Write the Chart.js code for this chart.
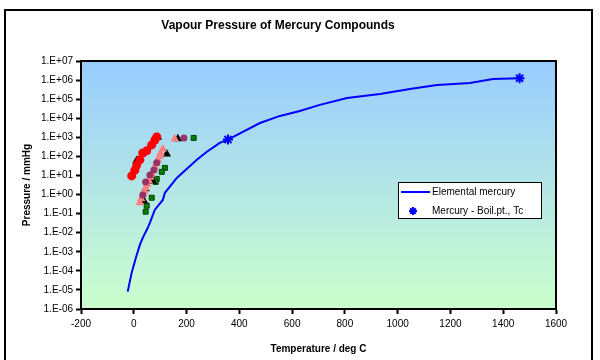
<!DOCTYPE html>
<html lang="en">
<head>
    <meta charset="UTF-8">
    <title>Vapour Pressure of Mercury Compounds</title>
    <script src="https://cdn.jsdelivr.net/npm/chart.js"></script>
    <style>
        body { margin: 0; background: #fff; }
        #chart { display: block; }
    </style>
</head>
<body>
    <canvas id="chart" width="600" height="360"></canvas>

    <script>
        // Elemental mercury curve (deg C, mmHg)
        const hgTemp = [-23, -8, 8, 23, 34, 53, 61, 80, 110, 118, 163, 239, 277, 326, 357, 478, 554, 629, 705, 808, 933, 1046, 1149, 1274, 1361, 1462];
        const hgPressure = [8.1e-6, 7.9e-5, 4.9e-4, 2.3e-3, 5.4e-3, 1.8e-2, 3.3e-2, 0.16, 0.52, 1.23, 7.4, 66, 174, 513, 760, 5600, 13200, 24000, 50000, 115000, 186000, 339000, 550000, 708000, 1.15e6, 1.25e6];

        // Boiling point and critical point
        const critTemp = [357, 1462];
        const critPressure = [760, 1.25e6];

        // Compound series
        const redTemp = [-8, 4, 11, 23, 34, 49, 68, 80, 87];
        const redPressure = [9.5, 19, 35, 66, 150, 195, 400, 720, 1050];

        const maroonTemp = [34, 45, 61, 76, 87, 190];
        const maroonPressure = [0.95, 4.6, 10.7, 19.5, 46, 930];

        const pinkTemp = [23, 28, 34, 40, 45, 51, 57, 62, 68, 74, 80, 85, 91, 97, 102, 110, 155];
        const pinkPressure = [0.37, 0.6, 0.95, 1.4, 2.2, 3.4, 5.2, 8, 12, 18, 28, 43, 66, 100, 150, 245, 830];

        const blackTemp = [91, 125, 167, 45, 38, 72, 11];
        const blackPressure = [1000, 135, 830, 2, 0.47, 5, 60];

        const greenTemp = [227, 118, 106, 87, 83, 68, 49, 45];
        const greenPressure = [930, 25, 15.5, 6.6, 4.6, 0.68, 0.26, 0.126];

        const pressureTicks = [1e-6, 1e-5, 1e-4, 1e-3, 1e-2, 1e-1, 1, 10, 100, 1e3, 1e4, 1e5, 1e6, 1e7];
        const pressureTickLabels = ['1.E-06', '1.E-05', '1.E-04', '1.E-03', '1.E-02', '1.E-01', '1.E+00',
            '1.E+01', '1.E+02', '1.E+03', '1.E+04', '1.E+05', '1.E+06', '1.E+07'];

        const toPoints = (xs, ys) => xs.map((x, i) => ({ x: x, y: ys[i] }));

        Chart.defaults.font.family = "Arial, 'Liberation Sans', sans-serif";
        Chart.defaults.color = '#000';

        // background, plot gradient, frames
        const backdrop = {
            id: 'backdrop',
            beforeDraw(chart) {
                const ctx = chart.ctx;
                const a = chart.chartArea;
                ctx.save();
                ctx.fillStyle = '#fff';
                ctx.fillRect(0, 0, chart.width, chart.height);
                const g = ctx.createLinearGradient(0, a.top, 0, a.bottom);
                g.addColorStop(0, '#99ccff');
                g.addColorStop(1, '#ccffcc');
                ctx.fillStyle = g;
                ctx.fillRect(a.left, a.top, a.right - a.left, a.bottom - a.top);
                ctx.strokeStyle = '#000';
                ctx.lineWidth = 2;
                ctx.strokeRect(5, 10, 587, 360);
                ctx.restore();
            },
            beforeDatasetsDraw(chart) {
                const ctx = chart.ctx;
                const a = chart.chartArea;
                ctx.save();
                ctx.strokeStyle = '#000';
                ctx.lineWidth = 2;
                ctx.strokeRect(a.left, a.top, a.right - a.left, a.bottom - a.top);
                ctx.restore();
            }
        };

        // legend box inside the plot
        const boxLegend = {
            id: 'boxLegend',
            afterDraw(chart) {
                const ctx = chart.ctx;
                const x = 398, y = 182, w = 143, h = 36;
                ctx.save();
                ctx.fillStyle = '#fff';
                ctx.fillRect(x, y, w, h);
                ctx.strokeStyle = '#000';
                ctx.lineWidth = 1;
                ctx.strokeRect(x + 0.5, y + 0.5, w, h);
                ctx.font = "10px Arial, 'Liberation Sans', sans-serif";
                ctx.textBaseline = 'middle';
                const items = chart.data.datasets.filter(d => d.inLegend);
                items.forEach((d, i) => {
                    const cy = y + 10 + i * 19;
                    if (d.showLine) {
                        ctx.strokeStyle = d.borderColor;
                        ctx.lineWidth = 2;
                        ctx.beginPath();
                        ctx.moveTo(x + 3, cy);
                        ctx.lineTo(x + 32, cy);
                        ctx.stroke();
                    } else {
                        ctx.strokeStyle = d.borderColor;
                        ctx.fillStyle = d.borderColor;
                        Chart.helpers.drawPoint(ctx, { pointStyle: d.pointStyle, radius: 4, borderWidth: 2, rotation: 0 }, x + 15, cy);
                    }
                    ctx.fillStyle = '#000';
                    ctx.fillText(d.label, x + 34, cy);
                });
                ctx.restore();
            }
        };

        new Chart(document.getElementById('chart'), {
            type: 'scatter',
            data: {
                datasets: [
                    {
                        label: 'Elemental mercury',
                        inLegend: true,
                        data: toPoints(hgTemp, hgPressure),
                        showLine: true,
                        borderColor: '#0000ff',
                        borderWidth: 2,
                        pointRadius: 0,
                        tension: 0
                    },
                    {
                        label: 'Mercury - Boil.pt., Tc',
                        inLegend: true,
                        data: toPoints(critTemp, critPressure),
                        showLine: false,
                        pointStyle: 'star',
                        pointRadius: 5,
                        borderWidth: 2,
                        borderColor: '#0000ff',
                        backgroundColor: '#0000ff'
                    },
                    {
                        label: 'red',
                        data: toPoints(redTemp, redPressure),
                        pointStyle: 'circle',
                        pointRadius: 4.5,
                        borderWidth: 0,
                        backgroundColor: '#ff0000'
                    },
                    {
                        label: 'maroon',
                        data: toPoints(maroonTemp, maroonPressure),
                        pointStyle: 'circle',
                        pointRadius: 3.5,
                        borderWidth: 0,
                        backgroundColor: '#993366'
                    },
                    {
                        label: 'pink',
                        data: toPoints(pinkTemp, pinkPressure),
                        pointStyle: 'triangle',
                        pointRadius: 5,
                        borderWidth: 0,
                        backgroundColor: '#ff8080'
                    },
                    {
                        label: 'black',
                        data: toPoints(blackTemp, blackPressure),
                        pointStyle: 'triangle',
                        pointRadius: 5,
                        borderWidth: 0,
                        backgroundColor: '#000'
                    },
                    {
                        label: 'green',
                        data: toPoints(greenTemp, greenPressure),
                        pointStyle: 'rect',
                        pointRadius: 3.5,
                        borderWidth: 1,
                        borderColor: '#004000',
                        backgroundColor: '#008000'
                    }
                ]
            },
            options: {
                responsive: false,
                animation: false,
                events: [],
                layout: { padding: { left: 0, right: 44, top: 0, bottom: 0 } },
                plugins: {
                    legend: { display: false },
                    tooltip: { enabled: false },
                    title: {
                        display: true,
                        text: 'Vapour Pressure of Mercury Compounds',
                        font: { size: 12, weight: 'bold' },
                        padding: { top: 18, bottom: 28.6 }
                    }
                },
                scales: {
                    x: {
                        type: 'linear',
                        min: -200,
                        max: 1600,
                        ticks: {
                            stepSize: 200,
                            padding: 4,
                            font: { size: 10 },
                            maxRotation: 0,
                            callback: v => String(v)
                        },
                        grid: { drawOnChartArea: false, drawTicks: true, tickLength: 5, color: '#000', tickWidth: 2 },
                        border: { display: true, color: '#000', width: 2 },
                        title: {
                            display: true,
                            text: 'Temperature / deg C',
                            font: { size: 10, weight: 'bold' },
                            padding: { top: 0, bottom: 5 }
                        },
                        afterFit(scale) { scale.height = 51; }
                    },
                    y: {
                        type: 'logarithmic',
                        min: 1e-6,
                        max: 1e7,
                        afterBuildTicks(scale) {
                            scale.ticks = pressureTicks.map(v => ({ value: v }));
                        },
                        ticks: {
                            padding: 3,
                            font: { size: 10 },
                            autoSkip: false,
                            callback: (v, i) => pressureTickLabels[i]
                        },
                        grid: { drawOnChartArea: false, drawTicks: true, tickLength: 5, color: '#000', tickWidth: 2 },
                        border: { display: true, color: '#000', width: 2 },
                        title: {
                            display: true,
                            text: 'Pressure / mmHg',
                            font: { size: 10, weight: 'bold' },
                            padding: { top: 21, bottom: 0 }
                        },
                        afterFit(scale) { scale.width = 81; }
                    }
                }
            },
            plugins: [backdrop, boxLegend]
        });
    </script>
</body>
</html>
